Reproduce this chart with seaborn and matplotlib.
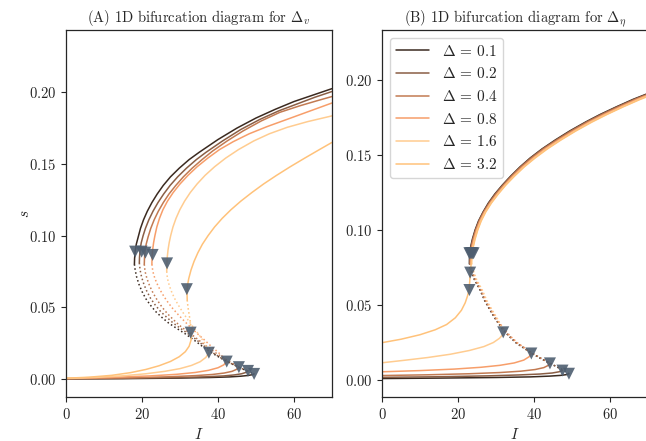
import numpy as np
import pandas as pd
import matplotlib
matplotlib.use('Agg')
import matplotlib.pyplot as plt
import seaborn as sns

deltas = [0.1, 0.2, 0.4, 0.8, 1.6, 3.2]
colors = ['#3b2a20', '#8a5e45', '#c27a52', '#f79e6a', '#ffcc90', '#ffc27a']

# (A) Delta_v : upper stable branch
a_up_I = [
    [18.0, 18.05, 18.2, 18.5, 19.0, 19.6, 20.4, 21.4, 22.6, 24.0, 25.6, 27.5, 29.8, 32.4, 35.0, 40.0, 45.0, 50.0, 55.0, 60.0, 65.0, 70.0],
    [19.3, 19.35, 19.5, 19.8, 20.3, 20.9, 21.8, 22.9, 24.2, 25.7, 27.4, 29.4, 31.7, 34.3, 36.8, 41.2, 46.0, 51.0, 56.0, 61.0, 65.5, 70.0],
    [20.6, 20.65, 20.8, 21.1, 21.6, 22.3, 23.2, 24.3, 25.6, 27.1, 28.9, 30.9, 33.2, 35.8, 38.6, 42.4, 46.6, 51.4, 56.3, 61.5, 66.0, 70.0],
    [22.6, 22.65, 22.8, 23.05, 23.4, 23.9, 24.6, 25.5, 26.7, 28.2, 30.0, 32.1, 34.5, 37.3, 40.4, 44.0, 48.2, 52.9, 58.1, 63.8, 70.0],
    [26.5, 26.55, 26.65, 26.85, 27.15, 27.55, 28.15, 28.95, 29.95, 31.2, 32.7, 34.5, 36.6, 39.1, 42.0, 45.4, 49.4, 53.5, 58.2, 63.6, 70.0],
    [31.9, 31.85, 31.95, 32.3, 32.9, 33.7, 34.7, 35.9, 37.4, 39.1, 41.1, 43.4, 46.0, 48.9, 52.0, 55.4, 59.0, 62.8, 66.7, 70.0],
]
a_up_s = [
    [0.080, 0.084, 0.089, 0.094, 0.099, 0.105, 0.111, 0.117, 0.123, 0.129, 0.135, 0.141, 0.147, 0.153, 0.158, 0.167, 0.175, 0.182, 0.188, 0.1935, 0.198, 0.2025],
    [0.081, 0.085, 0.090, 0.095, 0.100, 0.105, 0.111, 0.117, 0.123, 0.129, 0.135, 0.141, 0.147, 0.153, 0.158, 0.166, 0.174, 0.181, 0.187, 0.192, 0.1965, 0.2005],
    [0.080, 0.084, 0.089, 0.094, 0.099, 0.105, 0.111, 0.117, 0.123, 0.129, 0.135, 0.141, 0.147, 0.153, 0.159, 0.166, 0.173, 0.180, 0.186, 0.1905, 0.194, 0.197],
    [0.080, 0.085, 0.090, 0.095, 0.100, 0.106, 0.112, 0.118, 0.124, 0.130, 0.136, 0.142, 0.148, 0.154, 0.160, 0.1655, 0.171, 0.176, 0.181, 0.1865, 0.1925],
    [0.075, 0.080, 0.085, 0.090, 0.095, 0.100, 0.106, 0.112, 0.118, 0.124, 0.130, 0.136, 0.142, 0.148, 0.154, 0.160, 0.166, 0.171, 0.1755, 0.1795, 0.1835],
    [0.055, 0.060, 0.065, 0.070, 0.076, 0.082, 0.088, 0.094, 0.100, 0.106, 0.112, 0.118, 0.124, 0.130, 0.136, 0.142, 0.148, 0.154, 0.160, 0.165],
]
# (A) unstable middle branch
a_mid_I = [
    [18.0, 18.2, 18.6, 19.2, 20.0, 21.0, 22.2, 23.6, 25.2, 27.0, 29.0, 31.2, 33.5, 36.0, 38.6, 41.2, 43.8, 46.2, 48.2, 49.5],
    [19.3, 19.5, 19.9, 20.5, 21.3, 22.3, 23.5, 24.9, 26.5, 28.2, 30.0, 32.0, 34.1, 36.4, 38.8, 41.3, 43.8, 46.0, 47.9],
    [20.6, 20.8, 21.3, 22.0, 22.9, 24.0, 25.3, 26.7, 28.2, 29.8, 31.5, 33.3, 35.2, 37.3, 39.5, 41.7, 43.7, 45.5],
    [22.6, 22.85, 23.4, 24.2, 25.2, 26.4, 27.8, 29.3, 30.9, 32.6, 34.4, 36.3, 38.2, 40.2, 41.5, 42.3],
    [26.5, 26.7, 27.2, 27.9, 28.8, 29.9, 31.1, 32.4, 33.8, 35.2, 36.5, 37.3, 37.6],
    [31.9, 32.1, 32.4, 32.7, 32.9, 33.0],
]
a_mid_s = [
    [0.080, 0.076, 0.071, 0.066, 0.061, 0.056, 0.0515, 0.047, 0.043, 0.039, 0.0355, 0.0318, 0.0275, 0.0225, 0.0178, 0.0138, 0.0103, 0.0073, 0.005, 0.0035],
    [0.081, 0.076, 0.071, 0.066, 0.061, 0.056, 0.0515, 0.047, 0.043, 0.039, 0.0355, 0.0318, 0.0278, 0.0228, 0.018, 0.0138, 0.0103, 0.0075, 0.0056],
    [0.080, 0.075, 0.070, 0.065, 0.060, 0.055, 0.050, 0.0455, 0.0415, 0.0375, 0.034, 0.0305, 0.0265, 0.0222, 0.018, 0.0142, 0.011, 0.0082],
    [0.080, 0.075, 0.070, 0.065, 0.060, 0.055, 0.050, 0.0455, 0.041, 0.0365, 0.032, 0.0275, 0.0228, 0.0182, 0.0148, 0.0121],
    [0.075, 0.070, 0.065, 0.060, 0.055, 0.050, 0.045, 0.040, 0.035, 0.030, 0.025, 0.021, 0.0183],
    [0.055, 0.050, 0.045, 0.040, 0.036, 0.032],
]
# (A) lower stable branch
a_low_I = [
    [0, 15, 30, 38, 43, 46, 47.8, 48.9, 49.5],
    [0, 15, 30, 37, 41.5, 44.3, 46.2, 47.3, 47.9],
    [0, 15, 27, 34, 38.5, 41.6, 43.7, 44.9, 45.5],
    [0, 12, 22, 29, 34, 37.5, 40.0, 41.5, 42.3],
    [0, 8, 15, 21, 26, 30, 33, 35.3, 36.8, 37.6],
    [0, 6, 12, 17, 21, 24.5, 27.5, 29.8, 31.4, 32.4, 32.9, 33.0],
]
a_low_s = [
    [0.0, 0.0002, 0.0006, 0.0010, 0.0014, 0.0019, 0.0024, 0.0029, 0.0035],
    [0.0001, 0.0004, 0.0010, 0.0015, 0.0021, 0.0028, 0.0036, 0.0045, 0.0056],
    [0.0002, 0.0007, 0.0015, 0.0023, 0.0031, 0.0041, 0.0053, 0.0067, 0.0082],
    [0.0003, 0.0011, 0.0021, 0.0032, 0.0045, 0.0060, 0.0078, 0.0098, 0.0121],
    [0.0004, 0.0011, 0.0022, 0.0036, 0.0053, 0.0072, 0.0094, 0.0120, 0.0150, 0.0183],
    [0.0005, 0.0012, 0.0025, 0.0044, 0.0066, 0.0092, 0.0122, 0.0155, 0.019, 0.0228, 0.027, 0.032],
]
a_mark_I = [18.2, 19.9, 20.9, 22.8, 26.6, 31.8, 49.5, 47.9, 45.5, 42.3, 37.6, 32.8]
a_mark_s = [0.0888, 0.0888, 0.0881, 0.0865, 0.0806, 0.0626, 0.0035, 0.0056, 0.0082, 0.0121, 0.0183, 0.0323]

# (B) Delta_eta : upper stable branch
b_up_s = [0.078, 0.081, 0.085, 0.089, 0.094, 0.100, 0.106, 0.112, 0.118, 0.124, 0.130,
          0.136, 0.142, 0.148, 0.154, 0.160, 0.166, 0.172, 0.177, 0.182, 0.187, 0.191]
b_up_I = [
    [23.0, 23.02, 23.1, 23.35, 23.8, 24.5, 25.4, 26.6, 28.0, 29.7, 31.7, 33.9, 36.3, 39.0, 42.1, 45.6, 49.4, 53.6, 57.4, 61.6, 66.0, 70.0],
    [23.1, 23.12, 23.2, 23.45, 23.9, 24.6, 25.5, 26.7, 28.1, 29.8, 31.8, 34.0, 36.4, 39.1, 42.2, 45.8, 49.6, 53.8, 57.6, 61.8, 66.3, 70.3],
    [23.2, 23.22, 23.3, 23.55, 24.0, 24.7, 25.6, 26.8, 28.3, 30.0, 32.0, 34.2, 36.6, 39.4, 42.5, 46.1, 49.9, 54.1, 58.0, 62.2, 66.6, 70.6],
    [23.4, 23.42, 23.5, 23.75, 24.2, 24.9, 25.8, 27.0, 28.5, 30.3, 32.3, 34.5, 37.0, 39.8, 42.9, 46.5, 50.4, 54.6, 58.5, 62.7, 67.1, 71.0],
    [23.6, 23.62, 23.7, 23.95, 24.4, 25.1, 26.0, 27.2, 28.7, 30.5, 32.5, 34.8, 37.3, 40.1, 43.3, 46.9, 50.8, 55.0, 59.0, 63.2, 67.6, 71.5],
]
# (B) Delta = 3.2 has no fold: one solid curve
b_top_I = [0, 5, 10, 14, 17, 19.3, 20.9, 21.9, 22.5, 22.9, 23.1, 23.2, 23.5, 23.6, 23.8, 24.05, 24.5,
           25.2, 26.1, 27.3, 28.8, 30.6, 32.6, 34.9, 37.4, 40.3, 43.5, 47.1, 51.0, 55.3, 59.2, 63.4, 67.9, 72.0]
b_top_s = [0.0249, 0.0272, 0.0302, 0.0335, 0.037, 0.0415, 0.0465, 0.0515, 0.0560, 0.060, 0.066, 0.0716,
           0.078, 0.081, 0.085, 0.089, 0.094, 0.100, 0.106, 0.112, 0.118, 0.124, 0.130, 0.136, 0.142,
           0.148, 0.154, 0.160, 0.166, 0.172, 0.177, 0.182, 0.187, 0.191]
# (B) unstable middle branch
b_mid_I = [
    [23.0, 23.2, 24.3, 25.8, 27.0, 28.4, 30.0, 31.9, 33.5, 35.4, 37.5, 39.4, 42.0, 44.2, 46.0, 47.7, 49.2],
    [23.1, 23.4, 24.4, 25.9, 27.1, 28.5, 30.1, 32.0, 33.6, 35.5, 37.6, 39.5, 42.1, 44.3, 46.1, 47.5],
    [23.2, 23.5, 24.5, 26.0, 27.2, 28.6, 30.2, 32.1, 33.7, 35.6, 37.7, 39.6, 42.2, 44.2],
    [23.4, 23.7, 24.7, 26.2, 27.4, 28.8, 30.4, 32.3, 33.9, 35.8, 37.8, 39.3],
    [23.6, 23.9, 24.9, 26.4, 27.6, 29.0, 30.6, 31.9],
]
b_mid_s = [
    [0.078, 0.074, 0.067, 0.060, 0.053, 0.0467, 0.040, 0.0333, 0.029, 0.0245, 0.021, 0.0178, 0.014, 0.0111, 0.0088, 0.0067, 0.0042],
    [0.078, 0.074, 0.067, 0.060, 0.053, 0.0467, 0.040, 0.0333, 0.029, 0.0245, 0.021, 0.0178, 0.014, 0.0111, 0.0088, 0.0063],
    [0.078, 0.074, 0.067, 0.060, 0.053, 0.0467, 0.040, 0.0333, 0.029, 0.0245, 0.021, 0.0178, 0.014, 0.0111],
    [0.078, 0.074, 0.067, 0.060, 0.053, 0.0467, 0.040, 0.0333, 0.029, 0.0245, 0.021, 0.0177],
    [0.078, 0.074, 0.067, 0.060, 0.053, 0.0467, 0.040, 0.0318],
]
# (B) lower stable branch
b_low_I = [
    [0, 15, 30, 39, 44, 47, 48.5, 49.2],
    [0, 15, 28, 36, 41.5, 44.8, 46.6, 47.5],
    [0, 12, 23, 31, 36.5, 40.3, 42.6, 43.7, 44.2],
    [0, 10, 19, 26, 31, 34.8, 37.3, 38.7, 39.3],
    [0, 6, 12, 18, 23, 26.8, 29.3, 30.9, 31.7, 31.9],
]
b_low_s = [
    [0.0010, 0.0013, 0.0017, 0.0021, 0.0026, 0.0031, 0.0036, 0.0042],
    [0.0018, 0.0022, 0.0028, 0.0034, 0.0040, 0.0047, 0.0055, 0.0063],
    [0.0030, 0.0035, 0.0042, 0.0050, 0.0059, 0.0070, 0.0083, 0.0097, 0.0111],
    [0.0055, 0.0063, 0.0073, 0.0085, 0.0098, 0.0114, 0.0133, 0.0155, 0.0177],
    [0.0115, 0.0132, 0.0150, 0.0172, 0.0197, 0.0223, 0.0250, 0.0278, 0.0300, 0.0318],
]
b_mark_I = [23.0, 23.2, 23.5, 23.8, 24.1, 23.2, 49.2, 47.5, 44.2, 39.3, 31.9, 23.0]
b_mark_s = [0.0845, 0.0845, 0.0845, 0.0845, 0.0845, 0.0716, 0.0042, 0.0063, 0.0111, 0.0177, 0.0318, 0.060]

sns.set_style('ticks')
plt.rcParams['font.family'] = ['serif']
plt.rcParams['font.serif'] = ['cmr10', 'DejaVu Serif']
plt.rcParams['mathtext.fontset'] = 'cm'
plt.rcParams['axes.formatter.use_mathtext'] = True
plt.rcParams['axes.unicode_minus'] = False

fig = plt.figure(figsize=(6.46, 4.41), dpi=100)
ax1 = fig.add_axes([66/646, 44/441, 266/646, 367/441])
ax2 = fig.add_axes([382/646, 44/441, 266/646, 367/441])

lw = 1.1
mcol = '#4e5e70'


def draw(ax, I, s, c, ls='-', label=None):
    sns.lineplot(x=I, y=s, sort=False, estimator=None, color=c, linewidth=lw,
                 linestyle=ls, ax=ax, label=label, legend=False)


for k in range(6):
    draw(ax1, a_low_I[k], a_low_s[k], colors[k])
    draw(ax1, a_mid_I[k], a_mid_s[k], colors[k], ls=':')
    draw(ax1, a_up_I[k], a_up_s[k], colors[k])
sns.scatterplot(x=a_mark_I, y=a_mark_s, marker='v', s=75, color=mcol, alpha=0.9,
                edgecolor='none', zorder=5, ax=ax1)

for k in range(5):
    draw(ax2, b_low_I[k], b_low_s[k], colors[k])
    draw(ax2, b_mid_I[k], b_mid_s[k], colors[k], ls=':')
    draw(ax2, b_up_I[k], b_up_s, colors[k], label=r'$\Delta \,=\, %s$' % deltas[k])
draw(ax2, b_top_I, b_top_s, colors[5], label=r'$\Delta \,=\, %s$' % deltas[5])
sns.scatterplot(x=b_mark_I, y=b_mark_s, marker='v', s=75, color=mcol, alpha=0.9,
                edgecolor='none', zorder=5, ax=ax2)

ax1.set_xlim(0, 70)
ax1.set_ylim(-0.0126, 0.2434)
ax2.set_xlim(0, 70)
ax2.set_ylim(-0.0113, 0.2333)
for ax in (ax1, ax2):
    ax.set_xticks([0, 20, 40, 60])
    ax.set_xlabel('$I$', fontsize=11)
    ax.tick_params(labelsize=10.5)
    for sp in ax.spines.values():
        sp.set_visible(True)
        sp.set_linewidth(0.9)
ax1.set_yticks([0, 0.05, 0.1, 0.15, 0.2])
ax2.set_yticks([0, 0.05, 0.1, 0.15, 0.2])
ax1.set_ylabel('$s$', fontsize=11, labelpad=-2)
ax1.set_title(r'(A) 1D bifurcation diagram for $\Delta_v$', fontsize=10.5)
ax2.set_title(r'(B) 1D bifurcation diagram for $\Delta_\eta$', fontsize=10.5)
ax2.legend(loc='upper left', fontsize=11, handlelength=2.2, framealpha=0.8)

fig.savefig('out.png', dpi=100)
